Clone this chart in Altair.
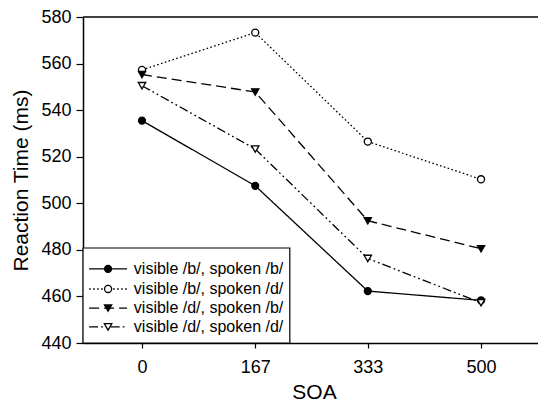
import altair as alt
import pandas as pd

# ---- data ----
soa = [0, 167, 333, 500]
series = [
    "visible /b/, spoken /b/",
    "visible /b/, spoken /d/",
    "visible /d/, spoken /b/",
    "visible /d/, spoken /d/",
]
rt_vb_sb = [535.5, 507.5, 462.3, 458.3]
rt_vb_sd = [557.3, 573.3, 526.5, 510.3]
rt_vd_sb = [555.3, 547.8, 492.5, 480.5]
rt_vd_sd = [550.5, 523.3, 476.3, 457.3]
y_ticks = [440, 460, 480, 500, 520, 540, 560, 580]

# ---- styles ----
dashes = [[1, 0], [1.6, 2.4], [10, 5], [9, 3, 1.8, 3, 1.8, 3]]
shapes = ["circle", "circle", "triangle-down", "triangle-down"]
fills = ["black", "white", "black", "white"]
sizes = [48, 55, 62, 58]
FONT = "Liberation Sans"

# legend placement (data units of the chart scales)
leg_x0, leg_x1, leg_y0, leg_y1 = -87, 218, 440, 480.8
leg_rows = [471.8, 463.2, 455.0, 446.9]
leg_line_x1, leg_line_x2, leg_mark_x, leg_text_x = -78, -22, -50, -12

rows = []
for name, vals in zip(series, [rt_vb_sb, rt_vb_sd, rt_vd_sb, rt_vd_sd]):
    for s, v in zip(soa, vals):
        rows.append({"series": name, "soa": s, "rt": v})
df = pd.DataFrame(rows)

leg = pd.DataFrame({
    "series": series,
    "y": leg_rows,
    "x1": [leg_line_x1] * 4,
    "x2": [leg_line_x2] * 4,
    "xm": [leg_mark_x] * 4,
    "xt": [leg_text_x] * 4,
})
box = pd.DataFrame({"x": [leg_x0], "x2": [leg_x1], "y": [leg_y0], "y2": [leg_y1]})

xs = alt.Scale(domain=[-87, 584], nice=False, zero=False)
ys = alt.Scale(domain=[440, 580], nice=False, zero=False)
dash_s = alt.Scale(domain=series, range=dashes)
shape_s = alt.Scale(domain=series, range=shapes)
fill_s = alt.Scale(domain=series, range=fills)
size_s = alt.Scale(domain=series, range=sizes)

x_axis = alt.Axis(values=soa, title="SOA", tickSize=5, labelPadding=10,
                  titlePadding=5, titleX=231, labelFontSize=18, titleFontSize=21)
y_axis = alt.Axis(values=y_ticks, title="Reaction Time (ms)", tickSize=7,
                  labelPadding=5, titlePadding=9, labelFontSize=18, titleFontSize=21)

base = alt.Chart(df)

lines = base.mark_line(color="black", strokeWidth=1.3).encode(
    x=alt.X("soa:Q", scale=xs, axis=x_axis),
    y=alt.Y("rt:Q", scale=ys, axis=y_axis),
    strokeDash=alt.StrokeDash("series:N", scale=dash_s, legend=None),
)
points = base.mark_point(stroke="black", strokeWidth=1.3, opacity=1, fillOpacity=1).encode(
    x=alt.X("soa:Q", scale=xs),
    y=alt.Y("rt:Q", scale=ys),
    shape=alt.Shape("series:N", scale=shape_s, legend=None),
    fill=alt.Fill("series:N", scale=fill_s, legend=None),
    size=alt.Size("series:N", scale=size_s, legend=None),
)

top_rule = alt.Chart(box).mark_rule(color="black", strokeWidth=1.5).encode(
    y=alt.datum(580, scale=ys)
)

frame = alt.Chart(box).mark_rect(fill="white", stroke="black", strokeWidth=1.2).encode(
    x=alt.X("x:Q", scale=xs), x2="x2:Q",
    y=alt.Y("y:Q", scale=ys), y2="y2:Q",
)
leg_lines = alt.Chart(leg).mark_rule(color="black", strokeWidth=1.3).encode(
    x=alt.X("x1:Q", scale=xs), x2="x2:Q",
    y=alt.Y("y:Q", scale=ys),
    strokeDash=alt.StrokeDash("series:N", scale=dash_s, legend=None),
)
leg_marks = alt.Chart(leg).mark_point(stroke="black", strokeWidth=1.3, opacity=1, fillOpacity=1).encode(
    x=alt.X("xm:Q", scale=xs),
    y=alt.Y("y:Q", scale=ys),
    shape=alt.Shape("series:N", scale=shape_s, legend=None),
    fill=alt.Fill("series:N", scale=fill_s, legend=None),
    size=alt.Size("series:N", scale=size_s, legend=None),
)
leg_text = alt.Chart(leg).mark_text(align="left", baseline="middle", fontSize=16,
                                    font=FONT, color="black").encode(
    x=alt.X("xt:Q", scale=xs),
    y=alt.Y("y:Q", scale=ys),
    text="series:N",
)

chart = alt.layer(lines, points, top_rule, frame, leg_lines, leg_marks, leg_text).properties(
    width=455, height=326,
    autosize=alt.AutoSizeParams(type="none"),
    padding={"left": 75, "top": 9, "right": 0, "bottom": 60},
).configure_view(stroke=None).configure_axis(
    grid=False, domainColor="black", domainWidth=1.5, tickColor="black", tickWidth=1.2,
    labelColor="black", titleColor="black", labelFont=FONT, titleFont=FONT,
    titleFontWeight="normal",
)

chart.save("out.html", embed_options={"renderer": "svg", "actions": False})
